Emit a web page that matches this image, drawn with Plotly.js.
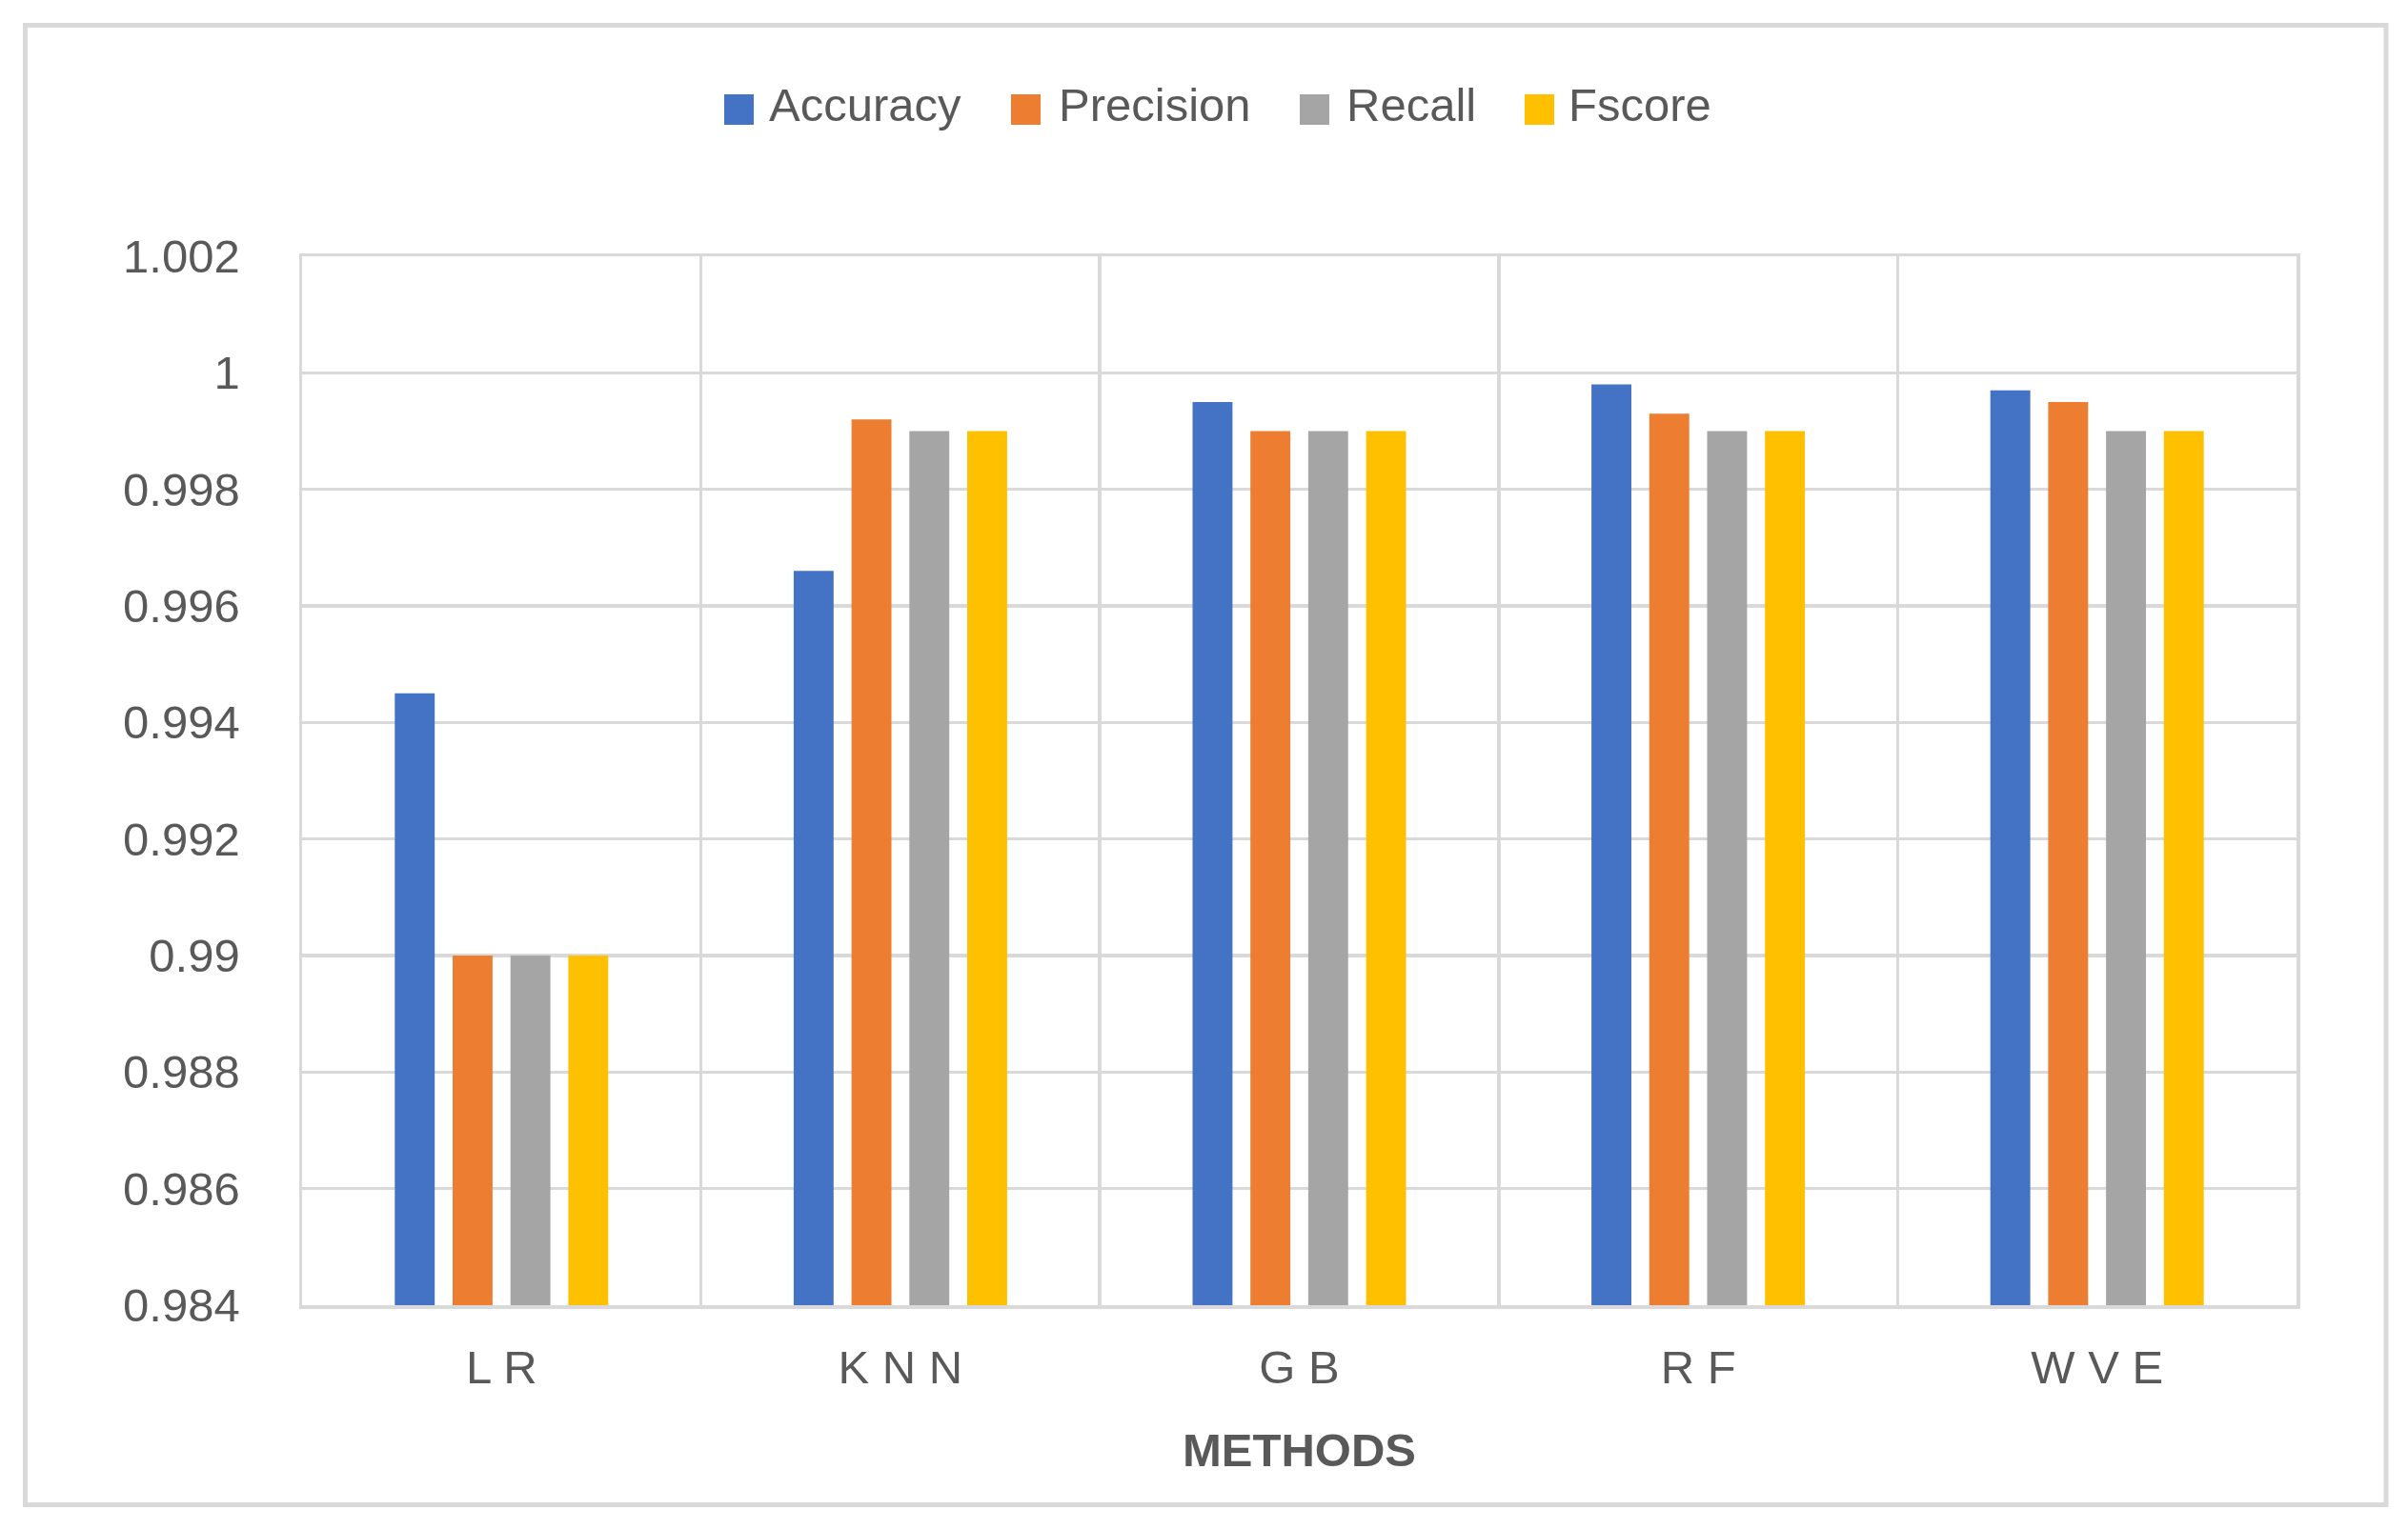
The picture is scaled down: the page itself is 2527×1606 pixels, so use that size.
<!DOCTYPE html>
<html>
<head>
<meta charset="utf-8">
<script src="https://cdn.plot.ly/plotly-3.0.1.min.js"></script>
<style>
  html, body { margin: 0; padding: 0; background: #ffffff; }
  #chart { width: 2527px; height: 1606px; }
</style>
</head>
<body>
<div id="chart"></div>
<script>
// ---- Data ----
const categories = ['L R', 'K N N', 'G B', 'R F', 'W V E'];
const seriesNames = ['Accuracy', 'Precision', 'Recall', 'Fscore'];
const accuracy  = [0.9945, 0.9966, 0.9995, 0.9998, 0.9997];
const precision = [0.9900, 0.9992, 0.9990, 0.9993, 0.9995];
const recall    = [0.9900, 0.9990, 0.9990, 0.9990, 0.9990];
const fscore    = [0.9900, 0.9990, 0.9990, 0.9990, 0.9990];
const yTickVals   = [0.984, 0.986, 0.988, 0.990, 0.992, 0.994, 0.996, 0.998, 1.000, 1.002];
const yTickLabels = ['0.984', '0.986', '0.988', '0.99', '0.992', '0.994', '0.996', '0.998', '1', '1.002'];
const xTitle = 'METHODS';

// ---- Styling ----
const colors = ['#4472C4', '#ED7D31', '#A5A5A5', '#FFC000'];
const FONT = 'Liberation Sans, Arial, sans-serif';
const TXT = '#595959';
const GRID = '#d9d9d9';
const W = 2527, H = 1606;
const M = { l: 317, r: W - 2410, t: 269, b: H - 1370 };
const PW = W - M.l - M.r, PH = H - M.t - M.b;
const px = x => (x - M.l) / PW;          // pixel -> paper x
const py = y => (M.t + PH - y) / PH;     // pixel -> paper y

const values = [accuracy, precision, recall, fscore];
const traces = seriesNames.map((name, i) => ({
  type: 'bar',
  name: name,
  x: categories,
  y: values[i],
  marker: { color: colors[i], line: { width: 0 } },
  hoverinfo: 'x+y+name'
}));

// Custom legend (large square keys like the reference)
const legendKeys = [
  { sq: 760, txt: 805 },
  { sq: 1061, txt: 1109 },
  { sq: 1364, txt: 1411 },
  { sq: 1600, txt: 1644 }
];
const shapes = [];
const annotations = [];
legendKeys.forEach((k, i) => {
  shapes.push({
    type: 'rect', xref: 'paper', yref: 'paper',
    x0: px(k.sq), x1: px(k.sq + 31), y0: py(131), y1: py(99),
    fillcolor: colors[i], line: { width: 0 }
  });
  annotations.push({
    xref: 'paper', yref: 'paper', x: px(k.txt), y: py(110),
    xanchor: 'left', yanchor: 'middle', showarrow: false,
    text: seriesNames[i], font: { family: FONT, size: 49, color: TXT }
  });
});
// outer chart border
shapes.push({
  type: 'rect', xref: 'paper', yref: 'paper',
  x0: px(26.5), x1: px(2504), y0: py(1579.5), y1: py(26.5),
  line: { color: GRID, width: 5 }, fillcolor: 'rgba(0,0,0,0)', layer: 'below'
});

const layout = {
  width: W, height: H,
  margin: M,
  paper_bgcolor: '#ffffff',
  plot_bgcolor: '#ffffff',
  showlegend: false,
  barmode: 'group',
  bargap: 0.42,
  bargroupgap: 0.31,
  font: { family: FONT, color: TXT, size: 49 },
  xaxis: {
    type: 'category',
    tickson: 'boundaries',
    showgrid: true, gridcolor: GRID, gridwidth: 3.5,
    showline: true, linecolor: GRID, linewidth: 3.5, mirror: true,
    ticks: '', ticklabelstandoff: 20,
    tickfont: { family: FONT, size: 49, color: TXT },
    title: { text: xTitle, font: { family: FONT, size: 49, color: TXT, weight: 'bold' }, standoff: 44 },
    automargin: false,
    fixedrange: true
  },
  yaxis: {
    range: [0.984, 1.002],
    tickmode: 'array', tickvals: yTickVals, ticktext: yTickLabels,
    showgrid: true, gridcolor: GRID, gridwidth: 3.5,
    zeroline: false,
    showline: true, linecolor: GRID, linewidth: 3.5, mirror: true,
    ticks: '', ticklabelstandoff: 52,
    tickfont: { family: FONT, size: 49, color: TXT },
    automargin: false,
    fixedrange: true
  },
  shapes: shapes,
  annotations: annotations
};

Plotly.newPlot('chart', traces, layout, { displayModeBar: false, staticPlot: true });
</script>
</body>
</html>
